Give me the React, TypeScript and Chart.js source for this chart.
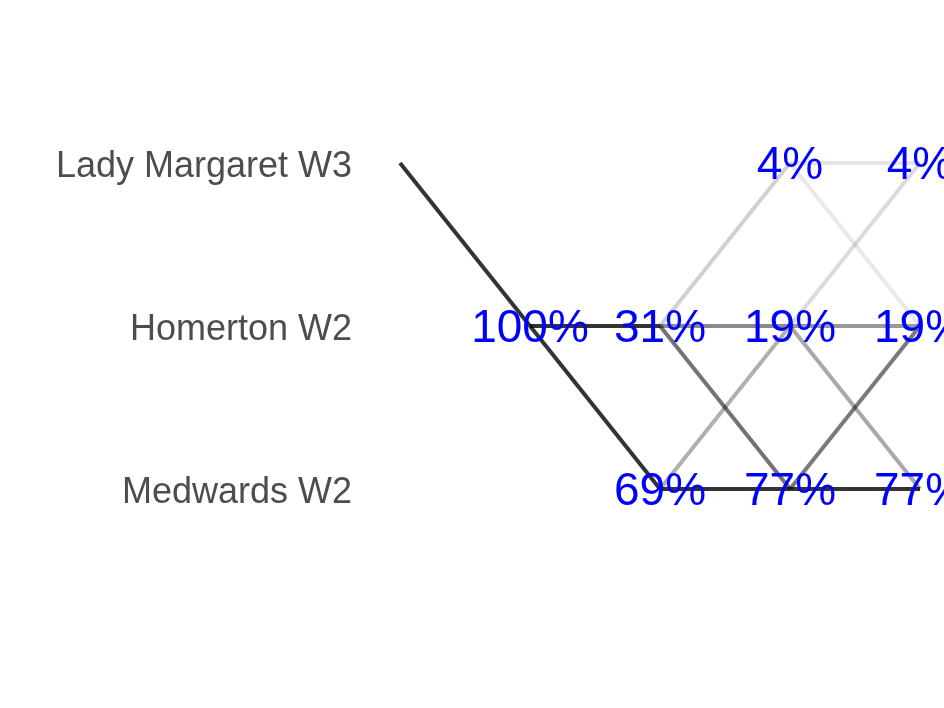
import React, { useEffect, useRef } from "react";
import { Chart, registerables } from "chart.js";

Chart.register(...registerables);

const teams = ["Lady Margaret W3", "Homerton W2", "Medwards W2"];

// transitions: from step -> step+1, from team index -> to team index, darkness
const segStep = [0, 1, 1, 2, 2, 2, 2, 2, 3, 3, 3, 3, 3, 3, 3];
const segFromTeam = [0, 1, 1, 1, 1, 1, 2, 2, 0, 0, 1, 1, 1, 2, 2];
const segToTeam = [1, 2, 1, 0, 1, 2, 1, 2, 0, 1, 0, 1, 2, 1, 2];
const segShade = [0.8, 0.8, 0.8, 0.18, 0.46, 0.55, 0.31, 0.8, 0.1, 0.09, 0.14, 0.4, 0.34, 0.52, 0.8];

// percentage labels
const labelStep = [1, 2, 2, 3, 3, 3, 4, 4, 4];
const labelTeam = [1, 1, 2, 0, 1, 2, 0, 1, 2];
const labelPct = [100, 31, 69, 4, 19, 77, 4, 19, 77];

const FONT = '"Liberation Sans", Arial, Helvetica, sans-serif';
const PCT_SIZE = 46;

const pctLabelPlugin = {
  id: "pctLabels",
  afterDatasetsDraw(chart: any) {
    const { ctx, scales } = chart;
    ctx.save();
    ctx.fillStyle = "#0000ff";
    ctx.font = `${PCT_SIZE}px ${FONT}`;
    ctx.textAlign = "center";
    ctx.textBaseline = "alphabetic";
    for (let i = 0; i < labelPct.length; i++) {
      const x = scales.x.getPixelForValue(labelStep[i]);
      const y = scales.y.getPixelForValue(labelTeam[i]);
      ctx.fillText(`${labelPct[i]}%`, x, y + PCT_SIZE * 0.358);
    }
    ctx.restore();
  },
};

export default function App() {
  const ref = useRef<HTMLCanvasElement | null>(null);

  useEffect(() => {
    if (!ref.current) return;
    const datasets = segStep.map((s, i) => ({
      label: `seg${i}`,
      data: [
        { x: s, y: segFromTeam[i] },
        { x: s + 1, y: segToTeam[i] },
      ],
      borderColor: `rgba(0,0,0,${segShade[i]})`,
      borderWidth: 4,
      pointRadius: 0,
      fill: false,
      tension: 0,
    }));
    const chart = new Chart(ref.current, {
      type: "line",
      data: { datasets },
      options: {
        animation: false,
        responsive: false,
        events: [],
        layout: { padding: 0 },
        plugins: { legend: { display: false }, tooltip: { enabled: false } },
        scales: {
          x: {
            type: "linear",
            display: false,
            min: -40 / 130,
            max: 4 + 24 / 130,
          },
          y: {
            type: "linear",
            reverse: true,
            min: -1,
            max: 708 / 163 - 1,
            grid: { display: false, drawTicks: false },
            border: { display: false },
            afterFit: (scale: any) => {
              scale.width = 360;
              scale.paddingTop = 0;
              scale.paddingBottom = 0;
            },
            afterBuildTicks: (scale: any) => {
              scale.ticks = teams.map((_, i) => ({ value: i }));
            },
            ticks: {
              padding: 8,
              labelOffset: 4,
              color: "#4d4d4d",
              font: { family: FONT, size: 36 },
              callback: (v: any) => teams[Math.round(Number(v))] ?? "",
            },
          },
        },
      },
      plugins: [pctLabelPlugin],
    });
    return () => chart.destroy();
  }, []);

  return (
    <div style={{ position: "fixed", left: 0, top: 0, width: 944, height: 708, background: "#fff" }}>
      <canvas ref={ref} width={944} height={708} style={{ display: "block" }} />
    </div>
  );
}
